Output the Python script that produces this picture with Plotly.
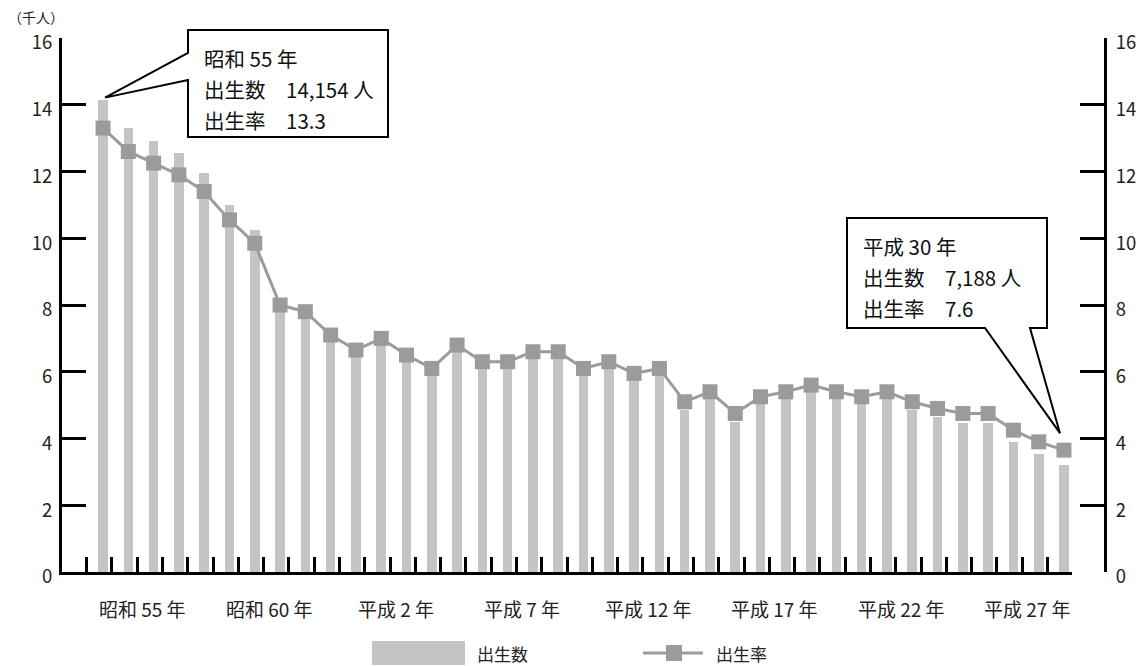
import plotly.graph_objects as go

# 昭和55年(1980) 〜 平成30年(2018)
year_index = list(range(39))

# 出生数（千人）
births = [14.154, 13.3, 12.9, 12.55, 11.95, 11.0, 10.25, 7.9, 7.7, 6.95,
          6.55, 6.9, 6.4, 6.0, 6.7, 6.2, 6.2, 6.5, 6.5, 6.0,
          6.2, 5.85, 6.0, 4.85, 5.25, 4.5, 5.05, 5.3, 5.5, 5.35,
          5.05, 5.35, 4.85, 4.65, 4.45, 4.45, 3.9, 3.55, 3.2]

# 出生率
rates = [13.3, 12.6, 12.25, 11.9, 11.4, 10.55, 9.85, 8.0, 7.8, 7.1,
         6.65, 7.0, 6.5, 6.1, 6.8, 6.3, 6.3, 6.6, 6.6, 6.1,
         6.3, 5.95, 6.1, 5.1, 5.4, 4.75, 5.25, 5.4, 5.6, 5.4,
         5.25, 5.4, 5.1, 4.9, 4.75, 4.75, 4.25, 3.9, 3.65]

tick_labels = ["昭和 55 年", "昭和 60 年", "平成 2 年", "平成 7 年",
               "平成 12 年", "平成 17 年", "平成 22 年", "平成 27 年"]
y_ticks = [0, 2, 4, 6, 8, 10, 12, 14, 16]

callout_first = ["昭和 55 年", "出生数　14,154 人", "出生率　13.3"]
callout_last = ["平成 30 年", "出生数　7,188 人", "出生率　7.6"]

BAR_COLOR = "#c4c4c4"
LINE_COLOR = "#9b9b9b"
FONT = "Noto Sans CJK JP, Noto Sans, sans-serif"

# page geometry (pixels)
W, H = 1143, 666
LEFT, RIGHT, TOP, BOTTOM = 62, 1105, 38, 572
X_END = 1072
X_RANGE = [-1.623, 38.317]
Y_MAX = 16


def fx(px):
    return (px - LEFT) / (RIGHT - LEFT)


def fy(py):
    return (BOTTOM - py) / (BOTTOM - TOP)


def data_px_x(v):
    return LEFT + (v - X_RANGE[0]) / (X_RANGE[1] - X_RANGE[0]) * (X_END - LEFT)


def data_px_y(v):
    return BOTTOM - v / Y_MAX * (BOTTOM - TOP)


fig = go.Figure()
fig.add_trace(go.Bar(
    x=year_index, y=births, width=0.38, marker=dict(color=BAR_COLOR, line=dict(width=0)),
    name="出生数", showlegend=False,
))
fig.add_trace(go.Scatter(
    x=year_index, y=rates, yaxis="y2", mode="lines+markers",
    line=dict(color=LINE_COLOR, width=3),
    marker=dict(symbol="square", size=15, color=LINE_COLOR),
    name="出生率", showlegend=False,
))

axis_common = dict(
    range=[0, Y_MAX], tickvals=y_ticks, ticks="inside", ticklen=24, tickwidth=3,
    tickcolor="black", showline=True, linewidth=3, linecolor="black",
    showgrid=False, zeroline=False, tickfont=dict(family=FONT, size=18.5, color="#222"),
    ticklabelshift=5, automargin=False,
)

fig.update_layout(
    width=W, height=H, plot_bgcolor="white", paper_bgcolor="white",
    margin=dict(l=LEFT, r=W - RIGHT, t=TOP, b=H - BOTTOM),
    bargap=0, showlegend=False,
    xaxis=dict(
        domain=[0, (X_END - LEFT) / (RIGHT - LEFT)], range=X_RANGE,
        tickvals=[i - 0.65 for i in range(40)], ticktext=[""] * 40,
        ticks="inside", ticklen=15, tickwidth=3, tickcolor="black",
        showline=True, linewidth=3, linecolor="black", showgrid=False, zeroline=False,
        automargin=False,
    ),
    yaxis=dict(side="left", ticklabelstandoff=3, **axis_common),
    yaxis2=dict(side="right", overlaying="y", anchor="free", position=1,
                ticklabelstandoff=5, **axis_common),
)

annotations = []
shapes = []

# category labels under the axis
for k, lab in enumerate(tick_labels):
    annotations.append(dict(
        x=5 * k + 1.57, xref="x", y=0, yref="paper", yshift=-36,
        text=lab, showarrow=False, xanchor="center", yanchor="middle",
        font=dict(family=FONT, size=19, color="#222"),
    ))

# unit label
annotations.append(dict(
    x=fx(6), y=fy(17), xref="paper", yref="paper", text="（千人）", showarrow=False,
    xanchor="left", yanchor="middle", font=dict(family=FONT, size=14, color="#222"),
))


def callout(box, base, tip, lines):
    x0, y0, x1, y1 = box
    (bx0, by0), (bx1, by1) = base
    tx, ty = tip
    if bx0 == x0 == bx1:  # pointer leaves from the left edge
        pts = [(x0, y0), (x1, y0), (x1, y1), (x0, y1), (bx1, by1), (tx, ty), (bx0, by0)]
    else:  # pointer leaves from the bottom edge
        pts = [(x0, y0), (x1, y0), (x1, y1), (bx1, by1), (tx, ty), (bx0, by0), (x0, y1)]
    path = "M " + " L ".join(f"{fx(px):.5f},{fy(py):.5f}" for px, py in pts) + " Z"
    shapes.append(dict(type="path", path=path, xref="paper", yref="paper",
                       fillcolor="white", line=dict(color="black", width=2), layer="above"))
    for j, t in enumerate(lines):
        annotations.append(dict(
            x=fx(x0 + 14), y=fy(y0 + 28 + 31 * j), xref="paper", yref="paper",
            text=t, showarrow=False, xanchor="left", yanchor="middle",
            font=dict(family=FONT, size=20.5, color="#111"),
        ))


# 昭和55年 callout points at the first bar
tip1 = (data_px_x(0) + 2, data_px_y(births[0]) - 2)
callout((188, 30, 388, 137), ((188, 53), (188, 80)), tip1, callout_first)

# 平成30年 callout points at the last marker
tip2 = (data_px_x(38) - 4, data_px_y(rates[-1]) - 17)
callout((847, 218, 1047, 328), ((985, 328), (1030, 328)), tip2, callout_last)

# legend
shapes.append(dict(type="rect", xref="paper", yref="paper",
                   x0=fx(372), x1=fx(465), y0=fy(641), y1=fy(665),
                   fillcolor=BAR_COLOR, line=dict(width=0)))
annotations.append(dict(x=fx(475), y=fy(653), xref="paper", yref="paper", text="出生数",
                        showarrow=False, xanchor="left", yanchor="middle",
                        font=dict(family=FONT, size=17, color="#222")))
shapes.append(dict(type="line", xref="paper", yref="paper",
                   x0=fx(643), x1=fx(703), y0=fy(653), y1=fy(653),
                   line=dict(color=LINE_COLOR, width=3)))
shapes.append(dict(type="rect", xref="paper", yref="paper",
                   x0=fx(666), x1=fx(682), y0=fy(645), y1=fy(661),
                   fillcolor=LINE_COLOR, line=dict(width=0)))
annotations.append(dict(x=fx(714), y=fy(653), xref="paper", yref="paper", text="出生率",
                        showarrow=False, xanchor="left", yanchor="middle",
                        font=dict(family=FONT, size=17, color="#222")))

fig.update_layout(annotations=annotations, shapes=shapes)
fig.write_html("out.html")
